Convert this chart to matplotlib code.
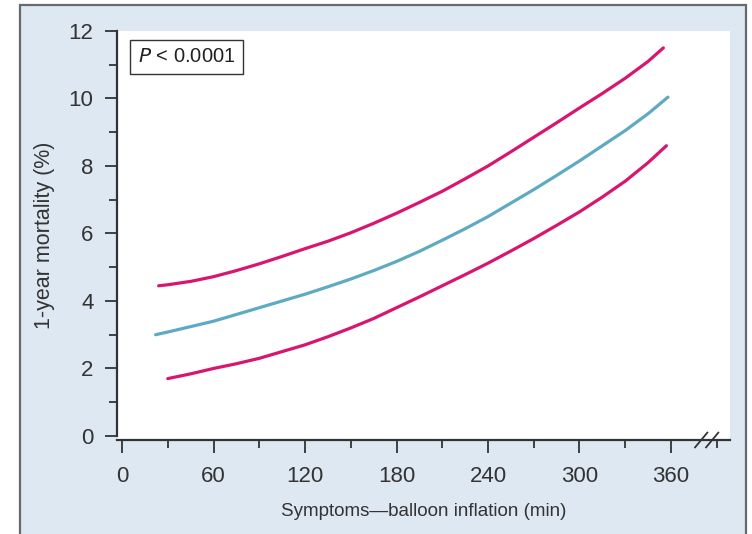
import matplotlib.pyplot as plt
from matplotlib.patches import Rectangle
from matplotlib.ticker import MultipleLocator

plt.rcParams['font.family'] = ['Liberation Sans', 'DejaVu Sans']

# minutes from symptom onset to balloon inflation
t_upper = [24, 30, 45, 60, 75, 90, 105, 120, 135, 150, 165, 180, 195, 210,
           225, 240, 255, 270, 285, 300, 315, 330, 345, 355]
upper = [4.45, 4.48, 4.58, 4.72, 4.9, 5.1, 5.32, 5.55, 5.77, 6.02, 6.3, 6.6,
         6.92, 7.25, 7.62, 8.0, 8.42, 8.85, 9.28, 9.72, 10.15, 10.6, 11.1, 11.5]

t_mid = [22, 30, 45, 60, 75, 90, 105, 120, 135, 150, 165, 180, 195, 210,
         225, 240, 255, 270, 285, 300, 315, 330, 345, 358]
mid = [3.0, 3.08, 3.24, 3.4, 3.6, 3.8, 4.0, 4.2, 4.42, 4.65, 4.9, 5.17,
       5.47, 5.8, 6.14, 6.5, 6.9, 7.3, 7.72, 8.15, 8.6, 9.05, 9.55, 10.04]

t_lower = [30, 45, 60, 75, 90, 105, 120, 135, 150, 165, 180, 195, 210,
           225, 240, 255, 270, 285, 300, 315, 330, 345, 357]
lower = [1.7, 1.84, 2.0, 2.14, 2.3, 2.5, 2.7, 2.94, 3.2, 3.48, 3.8, 4.12,
         4.45, 4.78, 5.12, 5.48, 5.85, 6.24, 6.64, 7.08, 7.55, 8.1, 8.6]

x_ticks = [0, 60, 120, 180, 240, 300, 360]
y_ticks = [0, 2, 4, 6, 8, 10, 12]

pink = '#d8156f'
teal = '#5eaac2'
panel = '#dde8f2'

fig = plt.figure(figsize=(7.52, 5.34), dpi=100)
fig.patch.set_facecolor('white')
frame = Rectangle((20 / 752, -0.01), 726 / 752, 1 - 5 / 534 + 0.01,
                  transform=fig.transFigure, facecolor=panel,
                  edgecolor='#65696e', linewidth=1.6, zorder=-10)
fig.add_artist(frame)

ax = fig.add_axes([117 / 752, 1 - 440 / 534, 613 / 752, 409 / 534])
ax.set_facecolor('white')

ax.plot(t_upper, upper, color=pink, lw=2.3, solid_capstyle='round')
ax.plot(t_mid, mid, color=teal, lw=2.3, solid_capstyle='round')
ax.plot(t_lower, lower, color=pink, lw=2.3, solid_capstyle='round')

ax.set_xlim(-3.3, 398.7)
ax.set_ylim(-0.12, 12.0)
ax.set_xticks(x_ticks)
ax.set_yticks(y_ticks)
ax.xaxis.set_minor_locator(MultipleLocator(30))
ax.yaxis.set_minor_locator(MultipleLocator(1))

for s in ['top', 'right']:
    ax.spines[s].set_visible(False)
for s in ['left', 'bottom']:
    ax.spines[s].set_color('#333333')
    ax.spines[s].set_linewidth(1.6)
ax.spines['left'].set_bounds(0, 12)

ax.tick_params(which='major', length=9, width=1.3, color='#333333',
               labelsize=16, labelcolor='#333333', pad=8)
ax.tick_params(which='minor', length=6, width=1.3, color='#333333')
ax.tick_params(axis='x', which='major', pad=9.5)

ax.set_xlabel('Symptoms\u2014balloon inflation (min)', fontsize=13.5,
              color='#333333', labelpad=12)
ax.set_ylabel('1-year mortality (%)', fontsize=15.5, color='#333333',
              labelpad=10)

# axis break marks at the end of the x axis
for dx in (0, 11):
    ax.plot([0.943 + dx / 613, 0.963 + dx / 613], [-0.018, 0.018],
            transform=ax.transAxes, color='#333333', lw=1.3, clip_on=False)

ax.text(0.034, 0.96, '$P$ < 0.0001', transform=ax.transAxes, fontsize=14.5,
        ha='left', va='top', color='#222222',
        bbox=dict(boxstyle='square,pad=0.38', facecolor='white',
                  edgecolor='#333333', linewidth=1.0))

fig.savefig('out.png', dpi=100)
